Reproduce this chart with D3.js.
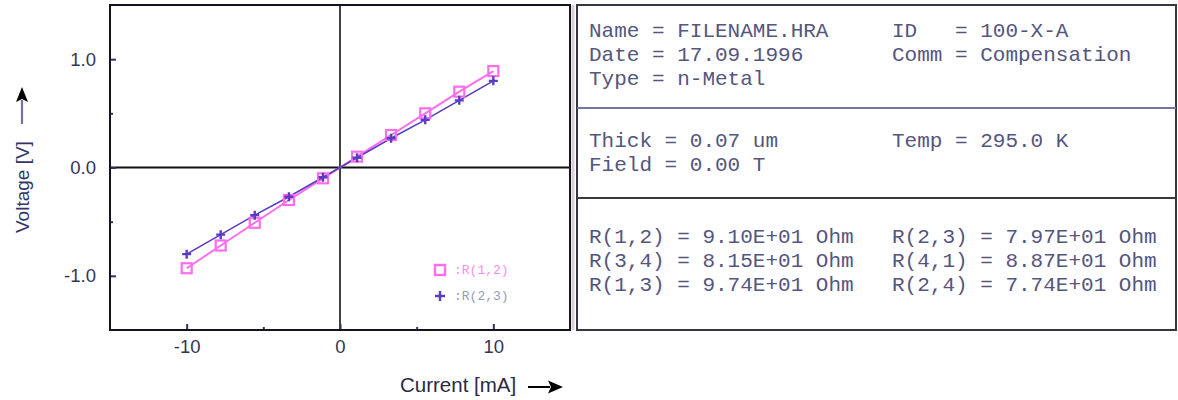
<!DOCTYPE html>
<html><head><meta charset="utf-8">
<script src="https://cdn.jsdelivr.net/npm/d3@7"></script>
<style>html,body{margin:0;padding:0;background:#fff;}svg{display:block;}</style>
</head><body>
<svg id="c" width="1178" height="400"></svg>
<script>
// ---- data ----
const current = [-10, -7.78, -5.56, -3.33, -1.11, 1.11, 3.33, 5.56, 7.78, 10];
const voltR12 = [-0.93, -0.72, -0.51, -0.30, -0.10, 0.10, 0.30, 0.50, 0.70, 0.89];
const voltR23 = [-0.80, -0.62, -0.44, -0.27, -0.09, 0.09, 0.27, 0.44, 0.62, 0.80];
const seriesNames = [":R(1,2)", ":R(2,3)"];
const xTicks = [-10, 0, 10];
const xMinorTicks = [-5, 5];
const yTicks = [-1.0, 0.0, 1.0];
const yMinorTicks = [-0.5, 0.5];
const xLabel = "Current [mA]";
const yLabel = "Voltage [V]";
const infoHeader = [["Name = FILENAME.HRA", "ID   = 100-X-A"], ["Date = 17.09.1996", "Comm = Compensation"], ["Type = n-Metal", ""]];
const infoConditions = [["Thick = 0.07 um", "Temp = 295.0 K"], ["Field = 0.00 T", ""]];
const infoResist = [["R(1,2) = 9.10E+01 Ohm", "R(2,3) = 7.97E+01 Ohm"], ["R(3,4) = 8.15E+01 Ohm", "R(4,1) = 8.87E+01 Ohm"], ["R(1,3) = 9.74E+01 Ohm", "R(2,4) = 7.74E+01 Ohm"]];

// ---- layout ----
const svg = d3.select("#c");
const L = 110, R = 570, T = 5, B = 330;
const x = d3.scaleLinear().domain([-15, 15]).range([L, R]);
const y = d3.scaleLinear().domain([-1.5, 1.5]).range([B, T]);
const axisCol = "#34345a";
const pink = "#ff6cec", purple = "#5a3cc4";
const hyph = f => d => f(d).replace("\u2212", "-");

svg.append("rect").attr("width", 1178).attr("height", 400).attr("fill", "#fff");

// zero lines
svg.append("line").attr("x1", L).attr("x2", R).attr("y1", y(0)).attr("y2", y(0)).attr("stroke", "#111").attr("stroke-width", 2);
svg.append("line").attr("x1", x(0)).attr("x2", x(0)).attr("y1", T).attr("y2", B).attr("stroke", "#111").attr("stroke-width", 1.6);

// axes (ticks inward)
const xAxis = d3.axisBottom(x).tickValues(xTicks).tickSize(-6).tickPadding(14).tickFormat(hyph(d3.format("d")));
const gx = svg.append("g").attr("transform", `translate(0,${B})`).call(xAxis);
const yAxis = d3.axisLeft(y).tickValues(yTicks).tickSize(-6).tickPadding(14).tickFormat(hyph(d3.format(".1f")));
const gy = svg.append("g").attr("transform", `translate(${L},0)`).call(yAxis);
[gx, gy].forEach(g => {
  g.select(".domain").remove();
  g.selectAll(".tick line").attr("stroke", axisCol).attr("stroke-width", 2);
  g.selectAll(".tick text").attr("fill", axisCol).style("font-family", "Liberation Sans, Arial, sans-serif").style("font-size", "18.5px");
});
gx.selectAll(".tick text").attr("dy", "0.5em");
const gxm = svg.append("g").attr("transform", `translate(0,${B})`).call(d3.axisBottom(x).tickValues(xMinorTicks).tickSize(-3).tickFormat(""));
const gym = svg.append("g").attr("transform", `translate(${L},0)`).call(d3.axisLeft(y).tickValues(yMinorTicks).tickSize(-3).tickFormat(""));
[gxm, gym].forEach(g => { g.select(".domain").remove(); g.selectAll(".tick line").attr("stroke", axisCol).attr("stroke-width", 2); });

// plot border
svg.append("rect").attr("x", L).attr("y", T).attr("width", R - L).attr("height", B - T)
  .attr("fill", "none").attr("stroke", "#141420").attr("stroke-width", 2);

// series
const s1 = current.map((c, i) => [c, voltR12[i]]);
const s2 = current.map((c, i) => [c, voltR23[i]]);
const line = d3.line().x(d => x(d[0])).y(d => y(d[1]));
svg.append("path").datum(s1).attr("d", line).attr("fill", "none").attr("stroke", pink).attr("stroke-width", 2);
svg.append("path").datum(s2).attr("d", line).attr("fill", "none").attr("stroke", purple).attr("stroke-width", 1.6);
const sq = 10;
svg.append("g").selectAll("rect").data(s1).join("rect")
  .attr("x", d => x(d[0]) - sq / 2).attr("y", d => y(d[1]) - sq / 2).attr("width", sq).attr("height", sq)
  .attr("fill", "none").attr("stroke", pink).attr("stroke-width", 2.2);
svg.append("g").selectAll("path").data(s2).join("path")
  .attr("d", d => `M${x(d[0]) - 4.5},${y(d[1])}h9M${x(d[0])},${y(d[1]) - 4.5}v9`)
  .attr("stroke", purple).attr("stroke-width", 2.4);

// legend
const legX = 440, legY = [270, 296];
svg.append("rect").attr("x", legX - 5).attr("y", legY[0] - 5).attr("width", 10).attr("height", 10)
  .attr("fill", "none").attr("stroke", pink).attr("stroke-width", 2.4);
svg.append("path").attr("d", `M${legX - 5},${legY[1]}h10M${legX},${legY[1] - 5}v10`).attr("stroke", purple).attr("stroke-width", 2.4);
svg.append("text").attr("x", legX + 14).attr("y", legY[0] + 4).text(seriesNames[0])
  .attr("fill", "#ff8cee").style("font-family", "Liberation Mono, monospace").style("font-size", "13px");
svg.append("text").attr("x", legX + 14).attr("y", legY[1] + 4).text(seriesNames[1])
  .attr("fill", "#9a9ab8").style("font-family", "Liberation Mono, monospace").style("font-size", "13px");

// axis labels with arrows
svg.append("text").attr("x", 400).attr("y", 392).text(xLabel).attr("fill", "#2a2a48")
  .style("font-family", "Liberation Sans, Arial, sans-serif").style("font-size", "20.5px");
svg.append("line").attr("x1", 528).attr("x2", 550).attr("y1", 387).attr("y2", 387)
  .attr("stroke", "#000").attr("stroke-width", 2);
svg.append("path").attr("d", "M548,380.5L563,387L548,393.5L551,387Z").attr("fill", "#000");
svg.append("text").attr("transform", "translate(29,233) rotate(-90)").text(yLabel).attr("fill", "#343466")
  .style("font-family", "Liberation Sans, Arial, sans-serif").style("font-size", "19px");
svg.append("line").attr("x1", 22).attr("x2", 22).attr("y1", 124).attr("y2", 100)
  .attr("stroke", "#7272a8").attr("stroke-width", 2.2);
svg.append("path").attr("d", "M16,102L22,87L28,102L22,99Z").attr("fill", "#000");

// info box
const BX = 577, BW = 599;
svg.append("line").attr("x1", 573).attr("x2", 573).attr("y1", T).attr("y2", B).attr("stroke", "#d8cfd8").attr("stroke-width", 3);
svg.append("rect").attr("x", BX).attr("y", T).attr("width", BW).attr("height", B - T)
  .attr("fill", "none").attr("stroke", "#3a3440").attr("stroke-width", 2);
svg.append("line").attr("x1", BX).attr("x2", BX + BW).attr("y1", 108).attr("y2", 108).attr("stroke", "#7474a8").attr("stroke-width", 2);
svg.append("line").attr("x1", BX).attr("x2", BX + BW).attr("y1", 198).attr("y2", 198).attr("stroke", "#3a3a3a").attr("stroke-width", 2);

const infoCol = "#55557e";
function block(rows, y0) {
  rows.forEach((r, i) => {
    r.forEach((t, j) => {
      if (!t) return;
      svg.append("text").attr("x", j === 0 ? 589 : 892).attr("y", y0 + i * 24).text(t)
        .attr("fill", infoCol).style("white-space", "pre")
        .style("font-family", "Liberation Mono, Courier New, monospace").style("font-size", "21px");
    });
  });
}
block(infoHeader, 37);
block(infoConditions, 147);
block(infoResist, 243);
</script>
</body></html>
